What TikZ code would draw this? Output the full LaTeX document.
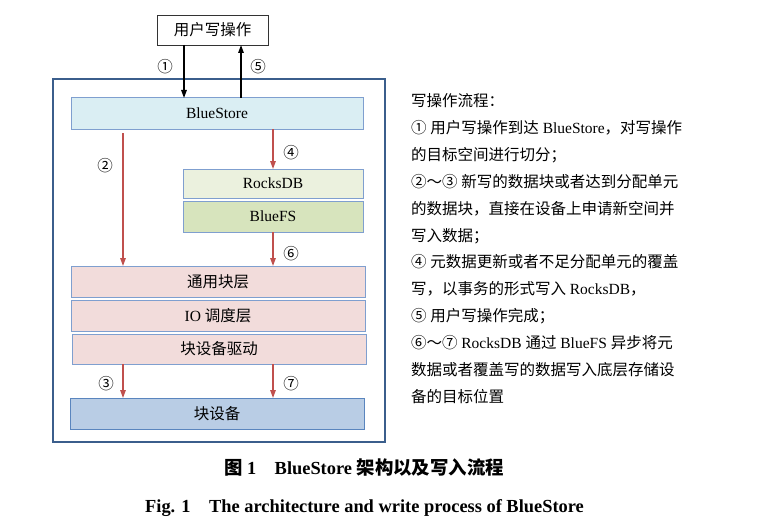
\documentclass[tikz,border=0pt]{standalone}
\usepackage{fontspec}
\setmainfont{Liberation Serif}
\newfontfamily\cjk{Noto Sans CJK SC}
\usetikzlibrary{arrows.meta}
\newcommand\zh[1]{{\cjk #1}}
\definecolor{outerblue}{HTML}{3B5E8C}
\definecolor{boxline}{HTML}{7F9FCF}
\definecolor{bsfill}{HTML}{DAEEF3}
\definecolor{rdbfill}{HTML}{EBF1DE}
\definecolor{bfsfill}{HTML}{D7E4BD}
\definecolor{pinkfill}{HTML}{F2DCDB}
\definecolor{devfill}{HTML}{B9CDE5}
\definecolor{devline}{HTML}{5A85BE}
\definecolor{redarrow}{HTML}{C0504D}
\begin{document}
\begin{tikzpicture}[x=1pt,y=-1pt,
  every node/.style={inner sep=0pt,outer sep=0pt},
  layer/.style={draw=boxline,line width=1pt,minimum height=31pt,
    font=\fontsize{15.5}{18}\selectfont},
  blk/.style={-{Triangle[length=8pt,width=5.5pt]},line width=1.4pt,black},
  redarr/.style={-{Triangle[length=8pt,width=5.5pt]},line width=1.4pt,redarrow},
  num/.style={font=\cjk\fontsize{15.5}{18}\selectfont},
  txt/.style={anchor=base west,font=\fontsize{15.5}{18}\selectfont}]
\useasboundingbox (0,0) rectangle (761,519);
% boxes
\node[draw=black!80,line width=0.8pt,fill=white,minimum width=111pt,minimum height=30pt,
  font=\fontsize{15.5}{18}\selectfont] (user) at (212.5,30) {\zh{用户写操作}};
\node[draw=outerblue,line width=2pt,minimum width=332pt,minimum height=363pt] (outer) at (219,260.5) {};
\node[layer,fill=bsfill,minimum width=292pt] (bs) at (217,113.5) {BlueStore};
\node[layer,fill=rdbfill,minimum width=180pt,minimum height=29pt] (rdb) at (273,183.5) {RocksDB};
\node[layer,fill=bfsfill,minimum width=180pt] (bfs) at (273,216.5) {BlueFS};
\node[layer,fill=pinkfill,minimum width=294pt] (gen) at (218,281.5) {\zh{通用块层}};
\node[layer,fill=pinkfill,minimum width=294pt] (io) at (218,315.5) {IO \zh{调度层}};
\node[layer,fill=pinkfill,minimum width=294pt,minimum height=30pt] (drv) at (219,349) {\zh{块设备驱动}};
\node[layer,draw=devline,fill=devfill,minimum width=294pt] (dev) at (217,413.5) {\zh{块设备}};
% arrow x positions
\coordinate (x1) at (184,0);
\coordinate (x5) at (241,0);
\coordinate (xl) at (123,0);
\coordinate (xr) at (273,0);
% arrows
\draw[blk] (user.south -| x1) -- (bs.north -| x1);
\draw[blk] (bs.north -| x5) -- (user.south -| x5);
\draw[redarr,shorten <=4pt] (bs.south -| xl) -- (gen.north -| xl);
\draw[redarr] (bs.south -| xr) -- (rdb.north -| xr);
\draw[redarr] (bfs.south -| xr) -- (gen.north -| xr);
\draw[redarr] (drv.south -| xl) -- (dev.north -| xl);
\draw[redarr] (drv.south -| xr) -- (dev.north -| xr);
% labels
\node[num] (n1) at (165,67) {①};
\node[num] (n5) at (258,67) {⑤};
\node[num] (n2) at (105,166) {②};
\node[num] (n4) at (291,153) {④};
\node[num] (n6) at (291,254) {⑥};
\node[num] (n3) at (106,384) {③};
\node[num] (n7) at (291,384) {⑦};
% right text
\node[txt] (t1) at (411,106.5) {\zh{写操作流程：}};
\node[txt] (t2) at (411,133.4) {\zh{①} \zh{用户写操作到达} BlueStore\zh{，对写操作}};
\node[txt] (t3) at (411,160.3) {\zh{的目标空间进行切分；}};
\node[txt] (t4) at (411,187.2) {\zh{②～③} \zh{新写的数据块或者达到分配单元}};
\node[txt] (t5) at (411,214.1) {\zh{的数据块，直接在设备上申请新空间并}};
\node[txt] (t6) at (411,241.0) {\zh{写入数据；}};
\node[txt] (t7) at (411,267.9) {\zh{④} \zh{元数据更新或者不足分配单元的覆盖}};
\node[txt] (t8) at (411,294.8) {\zh{写，以事务的形式写入} RocksDB\zh{，}};
\node[txt] (t9) at (411,321.7) {\zh{⑤} \zh{用户写操作完成；}};
\node[txt] (t10) at (411,348.6) {\zh{⑥～⑦} RocksDB \zh{通过} BlueFS \zh{异步将元}};
\node[txt] (t11) at (411,375.5) {\zh{数据或者覆盖写的数据写入底层存储设}};
\node[txt] (t12) at (411,402.4) {\zh{备的目标位置}};
% captions
\node[anchor=base,font=\bfseries\fontsize{18.4}{20}\selectfont] (cap1) at (364,474)
  {\zh{图} 1\hspace{1em}BlueStore \zh{架构以及写入流程}};
\node[anchor=base,font=\bfseries\fontsize{18.4}{20}\selectfont] (cap2) at (364.5,512)
  {Fig. 1\hspace{1em}The architecture and write process of BlueStore};
\end{tikzpicture}
\end{document}
